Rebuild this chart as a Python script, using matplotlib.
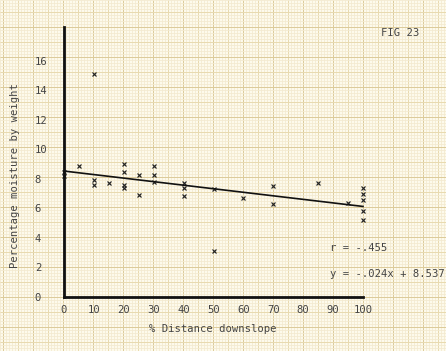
import matplotlib
matplotlib.use("Agg")
import matplotlib.pyplot as plt
import numpy as np

# ---- data ----
distance = [0, 0, 5, 10, 10, 10, 15, 20, 20, 20, 20, 25, 25, 30, 30, 30,
            40, 40, 40, 50, 50, 60, 70, 70, 85, 95, 100, 100, 100, 100, 100]
moisture = [8.5, 8.2, 8.9, 15.1, 7.9, 7.6, 7.7, 9.0, 8.5, 7.6, 7.4, 8.3, 6.9, 8.9, 8.3, 7.8,
            7.75, 7.4, 6.85, 7.3, 3.1, 6.7, 7.55, 6.3, 7.75, 6.35, 7.4, 7.0, 6.6, 5.8, 5.25]
slope = -0.024
intercept = 8.537
x_ticks = [0, 10, 20, 30, 40, 50, 60, 70, 80, 90, 100]
y_ticks = [0, 2, 4, 6, 8, 10, 12, 14, 16]
x_label = "% Distance downslope"
y_label = "Percentage moisture by weight"
title = "FIG 23"
r_text = "r = -.455"
eq_text = "y = -.024x + 8.537"

W, H = 446, 351
fig = plt.figure(figsize=(W / 100, H / 100), dpi=100)
fig.patch.set_facecolor("#fdfaec")

# ---- graph paper background ----
bg = fig.add_axes([0, 0, 1, 1], zorder=0)
bg.set_xlim(0, W)
bg.set_ylim(H, 0)
bg.axis("off")
px = 0.72
for v in range(0, W + 1, 3):
    if (v - 3) % 30 == 0:
        c, lw = "#dccb9b", 1.0 * px
    elif (v - 3) % 15 == 0:
        c, lw = "#e8dab0", 1.0 * px
    else:
        c, lw = "#f3ead0", 0.8 * px
    bg.vlines(v, 0, H, colors=c, linewidth=lw)
for h in range(0, H + 1, 3):
    if (h - 27) % 30 == 0:
        c, lw = "#dccb9b", 1.0 * px
    elif (h - 27) % 15 == 0:
        c, lw = "#e8dab0", 1.0 * px
    else:
        c, lw = "#f3ead0", 0.8 * px
    bg.hlines(h, 0, W, colors=c, linewidth=lw)

# ---- main plot ----
font = dict(family="DejaVu Sans Mono", size=7.6, color="#444444")
ax = fig.add_axes([64 / W, 54 / H, 299 / W, 270 / H], zorder=1)
ax.set_facecolor("none")
ax.set_xlim(0, 100)
ax.set_ylim(0, 18.3)
for s in ["top", "right"]:
    ax.spines[s].set_visible(False)
for s in ["left", "bottom"]:
    ax.spines[s].set_linewidth(2.0)
    ax.spines[s].set_color("#111111")

ax.set_xticks(x_ticks)
ax.set_xticklabels([str(t) for t in x_ticks], **font)
ax.set_yticks(y_ticks)
ax.set_yticklabels([str(t) for t in y_ticks], ha="left", **font)
ax.tick_params(axis="x", length=0, pad=5.5)
ax.tick_params(axis="y", length=0, pad=21)

ax.plot(distance, moisture, linestyle="none", marker="x", markersize=3.2,
        markeredgewidth=0.85, color="#222222", clip_on=False)
xl = np.array([0, 100])
ax.plot(xl, slope * xl + intercept, color="#111111", linewidth=1.2, clip_on=False)

fig.text(213 / W, 1 - 329 / H, x_label, ha="center", va="center", **font)
fig.text(15 / W, 1 - 176 / H, y_label, ha="center", va="center", rotation=90, **font)
fig.text(381 / W, 1 - 33 / H, title, ha="left", va="center", **font)
fig.text(330 / W, 1 - 248 / H, r_text, ha="left", va="center", **font)
fig.text(330 / W, 1 - 274 / H, eq_text, ha="left", va="center", **font)

fig.savefig("out.png", dpi=100, facecolor=fig.get_facecolor())
